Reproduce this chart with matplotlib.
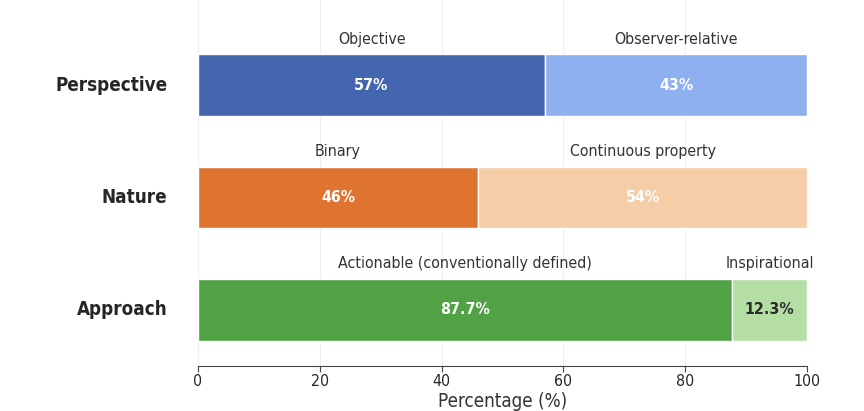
import matplotlib
matplotlib.use("Agg")
import matplotlib.pyplot as plt
from matplotlib import font_manager

categories = ["Perspective", "Nature", "Approach"]
first_labels = ["Objective", "Binary", "Actionable (conventionally defined)"]
second_labels = ["Observer-relative", "Continuous property", "Inspirational"]
first_values = [57, 46, 87.7]
second_values = [43, 54, 12.3]
first_text = ["57%", "46%", "87.7%"]
second_text = ["43%", "54%", "12.3%"]
first_colors = ["#4466AF", "#DE7430", "#51A145"]
second_colors = ["#8FB0F0", "#F5CDA6", "#B5DEA5"]
second_text_colors = ["white", "white", "#2a2a2a"]

names = set(f.name for f in font_manager.fontManager.ttflist)
cond = "DejaVu Sans Condensed" in names or any(
    f.name == "DejaVu Sans" and f.stretch not in ("normal", 500) for f in font_manager.fontManager.ttflist)
stretch = "condensed" if cond else "normal"
scale = 1.037 if cond else 0.96
plt.rcParams["font.stretch"] = stretch

fig = plt.figure(figsize=(8.64, 4.11), dpi=100)
ax = fig.add_axes([198/864, 1-366/411, 609/864, 366/411])

ypos = list(range(len(categories)))
ax.barh(ypos, first_values, height=0.55, color=first_colors, edgecolor="white", linewidth=1, zorder=2)
ax.barh(ypos, second_values, left=first_values, height=0.55, color=second_colors, edgecolor="white", linewidth=1, zorder=2)

for i in ypos:
    c1 = first_values[i] / 2
    c2 = first_values[i] + second_values[i] / 2
    ax.text(c1, i, first_text[i], ha="center", va="center", color="white", fontsize=11*scale, fontweight="bold", zorder=3)
    ax.text(c2, i, second_text[i], ha="center", va="center", color=second_text_colors[i], fontsize=11*scale, fontweight="bold", zorder=3)
    ax.text(c1, i - 0.41, first_labels[i], ha="center", va="center", color="#333333", fontsize=11*scale, zorder=3)
    ax.text(c2, i - 0.41, second_labels[i], ha="center", va="center", color="#333333", fontsize=11*scale, zorder=3)

ax.set_xlim(0, 100)
ax.set_ylim(2.5, -0.76)
ax.set_yticks(ypos)
ax.set_yticklabels(categories, fontsize=13*scale, fontweight="bold", color="#262626", va="center")
ax.tick_params(axis="y", length=0, pad=22)
ax.tick_params(axis="x", labelsize=11*scale, colors="#262626", length=4, color="#444444", pad=2)
ax.set_xticks([0, 20, 40, 60, 80, 100])
ax.set_xlabel("Percentage (%)", fontsize=13*scale, color="#333333", labelpad=2)
for s in ["top", "right", "left"]:
    ax.spines[s].set_visible(False)
ax.spines["bottom"].set_color("#444444")
ax.xaxis.grid(True, color="#eeeeee", linewidth=0.8, zorder=0)
ax.set_axisbelow(True)

fig.savefig("out.png", dpi=100)
